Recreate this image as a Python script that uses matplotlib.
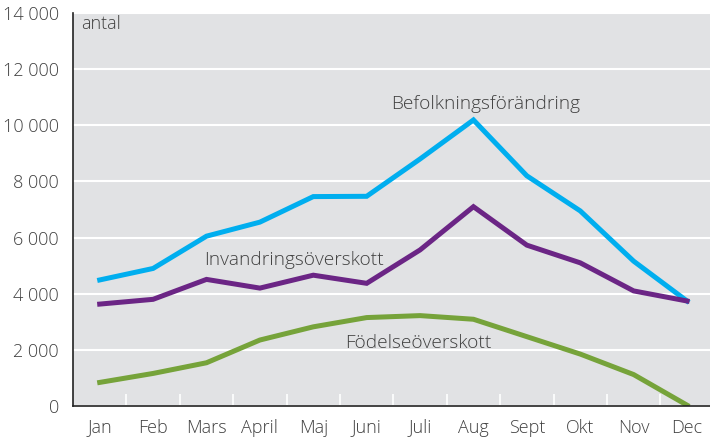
import matplotlib
matplotlib.use("Agg")
import matplotlib.pyplot as plt
from matplotlib.ticker import FuncFormatter

plt.rcParams['font.family'] = ['Open Sans', 'DejaVu Sans']
plt.rcParams['font.weight'] = 'light'

months = ["Jan", "Feb", "Mars", "April", "Maj", "Juni", "Juli", "Aug",
          "Sept", "Okt", "Nov", "Dec"]
befolkning = [4490, 4900, 6050, 6550, 7460, 7470, 8800, 10190, 8200, 6950, 5160, 3740]
invandring = [3630, 3800, 4510, 4200, 4660, 4370, 5560, 7100, 5730, 5100, 4100, 3740]
fodelse = [840, 1160, 1540, 2350, 2820, 3150, 3220, 3090, 2470, 1850, 1120, 30]

text_col = "#404040"

fig = plt.figure(figsize=(7.1, 4.4), dpi=100)
ax = fig.add_axes([73 / 710, 34 / 440, 637 / 710, 393 / 440])
ax.set_facecolor("#e1e2e4")

x = list(range(len(months)))
ax.plot(x, befolkning, color="#00aeef", lw=3.6, solid_joinstyle="miter", zorder=3)
ax.plot(x, invandring, color="#6b2585", lw=3.6, solid_joinstyle="miter", zorder=3)
ax.plot(x, fodelse, color="#76a33a", lw=3.6, solid_joinstyle="miter", zorder=3)

ax.set_ylim(0, 14000)
ax.set_xlim(-0.5, 11.43)
ax.set_yticks(range(0, 14001, 2000))
ax.yaxis.set_major_formatter(FuncFormatter(lambda v, p: f"{int(v):,}".replace(",", " ")))
ax.set_xticks(x)
ax.set_xticklabels(months)
ax.set_xticks([i + 0.5 for i in range(11)], minor=True)
ax.grid(axis="y", color="white", lw=1.5, zorder=1)
ax.set_axisbelow(True)

ax.tick_params(axis="both", which="major", length=0, labelsize=13, colors=text_col)
ax.tick_params(axis="y", pad=10)
ax.tick_params(axis="x", pad=9)
ax.tick_params(axis="x", which="minor", direction="in", length=9, width=1.2, color="white")

for s in ["top", "right"]:
    ax.spines[s].set_visible(False)
for s in ["left", "bottom"]:
    ax.spines[s].set_color("#222222")
    ax.spines[s].set_linewidth(1.2)
    ax.spines[s].set_zorder(4)

ax.text(0.012, 0.995, "antal", transform=ax.transAxes, ha="left", va="top",
        fontsize=13, color=text_col)
ax.text(7.23, 10420, "Befolkningsförändring", ha="center", va="bottom", fontsize=13.8, color=text_col)
ax.text(3.64, 4870, "Invandringsöverskott", ha="center", va="bottom", fontsize=13.8, color=text_col)
ax.text(5.96, 1920, "Födelseöverskott", ha="center", va="bottom", fontsize=13.8, color=text_col)

fig.savefig("out.png", dpi=100)
